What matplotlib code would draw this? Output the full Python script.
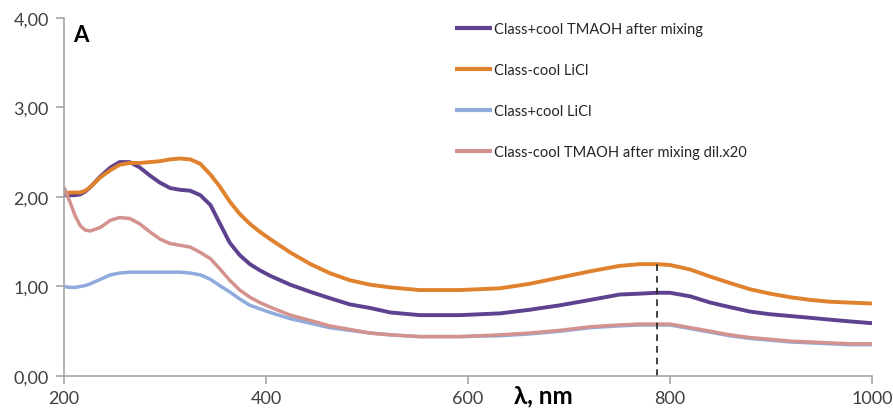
import matplotlib
matplotlib.use("Agg")
import matplotlib.pyplot as plt

wavelength = [200, 206, 211, 216, 221, 226, 236, 246, 255, 265, 275, 285, 295, 305, 315, 325,
              335, 345, 354, 364, 374, 384, 394, 404, 424, 444, 463, 483, 503, 523, 552, 592, 632, 661,
              691, 721, 750, 770, 787, 800, 820, 840, 859, 879, 899, 919, 939, 958, 978, 1000]

tmaoh_plus = [2.02, 2.02, 2.02, 2.03, 2.06, 2.11, 2.23, 2.33, 2.39, 2.39, 2.33, 2.24, 2.16, 2.10, 2.08, 2.07,
              2.02, 1.91, 1.71, 1.49, 1.35, 1.25, 1.18, 1.12, 1.02, 0.94, 0.87, 0.80, 0.76, 0.71, 0.68, 0.68, 0.70, 0.74,
              0.79, 0.85, 0.91, 0.92, 0.93, 0.93, 0.89, 0.82, 0.77, 0.72, 0.69, 0.67, 0.65, 0.63, 0.61, 0.59]

licl_minus = [2.04, 2.05, 2.05, 2.05, 2.07, 2.11, 2.22, 2.30, 2.36, 2.38, 2.38, 2.39, 2.40, 2.42, 2.43, 2.42,
              2.37, 2.25, 2.12, 1.95, 1.81, 1.70, 1.61, 1.53, 1.38, 1.25, 1.15, 1.07, 1.02, 0.99, 0.96, 0.96, 0.98, 1.03,
              1.10, 1.17, 1.23, 1.25, 1.25, 1.24, 1.19, 1.11, 1.04, 0.97, 0.92, 0.88, 0.85, 0.83, 0.82, 0.81]

licl_plus = [1.00, 0.99, 0.99, 1.00, 1.01, 1.03, 1.08, 1.13, 1.15, 1.16, 1.16, 1.16, 1.16, 1.16, 1.16, 1.15,
             1.13, 1.08, 1.01, 0.94, 0.86, 0.79, 0.75, 0.71, 0.64, 0.59, 0.54, 0.51, 0.48, 0.46, 0.44, 0.44, 0.45, 0.47,
             0.50, 0.54, 0.56, 0.57, 0.57, 0.57, 0.53, 0.49, 0.45, 0.42, 0.40, 0.38, 0.37, 0.36, 0.35, 0.35]

tmaoh_minus_dil = [2.11, 1.94, 1.79, 1.68, 1.63, 1.62, 1.66, 1.74, 1.77, 1.76, 1.70, 1.61, 1.53, 1.48, 1.46, 1.44,
                   1.38, 1.31, 1.20, 1.07, 0.96, 0.88, 0.82, 0.77, 0.68, 0.62, 0.56, 0.52, 0.48, 0.46, 0.44, 0.44, 0.46, 0.48,
                   0.51, 0.55, 0.57, 0.58, 0.58, 0.58, 0.54, 0.50, 0.46, 0.43, 0.41, 0.39, 0.38, 0.37, 0.36, 0.36]

labels = ["Class+cool TMAOH after mixing", "Class-cool LiCl", "Class+cool LiCl",
          "Class-cool TMAOH after mixing dil.x20"]
colors = ["#5E4290", "#E0812E", "#8FAADC", "#D4928F"]
series = [tmaoh_plus, licl_minus, licl_plus, tmaoh_minus_dil]

peak_wavelength = 787
peak_value = 1.25

x_ticks = [200, 400, 600, 800, 1000]
y_ticks = [0, 1, 2, 3, 4]
y_tick_labels = ["0,00", "1,00", "2,00", "3,00", "4,00"]

plt.rcParams['font.family'] = ['Lato', 'DejaVu Sans']

fig = plt.figure(figsize=(8.93, 4.10), dpi=100)
ax = fig.add_axes([0.0717, 0.0805, 0.9048, 0.8732])

widths = [2.8, 2.8, 2.5, 2.5]
for vals, lab, col, lw in zip(series, labels, colors, widths):
    ax.plot(wavelength, vals, color=col, lw=lw, label=lab, solid_capstyle='butt',
            solid_joinstyle='round')

ax.vlines(peak_wavelength, 0, peak_value, colors='#222222', linestyles=(0, (4, 3)), lw=1.2)

ax.set_xlim(200, 1000)
ax.set_ylim(0, 4)
ax.set_xticks(x_ticks)
ax.set_yticks(y_ticks)
ax.set_yticklabels(y_tick_labels)

for s in ['top', 'right']:
    ax.spines[s].set_visible(False)
for s in ['left', 'bottom']:
    ax.spines[s].set_color('#a6a6a6')
    ax.spines[s].set_linewidth(1.2)

ax.tick_params(axis='both', direction='out', length=6, width=1.2, color='#a6a6a6',
               labelsize=13, labelcolor='#404040')
ax.tick_params(axis='y', pad=5)
ax.tick_params(axis='x', pad=4)

ax.text(0.011, 0.982, "A", transform=ax.transAxes, fontsize=16, fontweight='bold',
        ha='left', va='top', color='black')

ax.set_xlabel("λ, nm", fontsize=17.5, fontweight='bold', color='black')
ax.xaxis.set_label_coords(0.593, -0.02)

leg = ax.legend(loc='upper left', bbox_to_anchor=(0.4765, 1.005), frameon=False,
                fontsize=10.5, handlelength=2.55, handletextpad=0.12, labelspacing=1.86,
                borderaxespad=0)
for t in leg.get_texts():
    t.set_color('#262626')
for h in leg.get_lines():
    h.set_linewidth(3.0)

fig.savefig("out.png", dpi=100)
